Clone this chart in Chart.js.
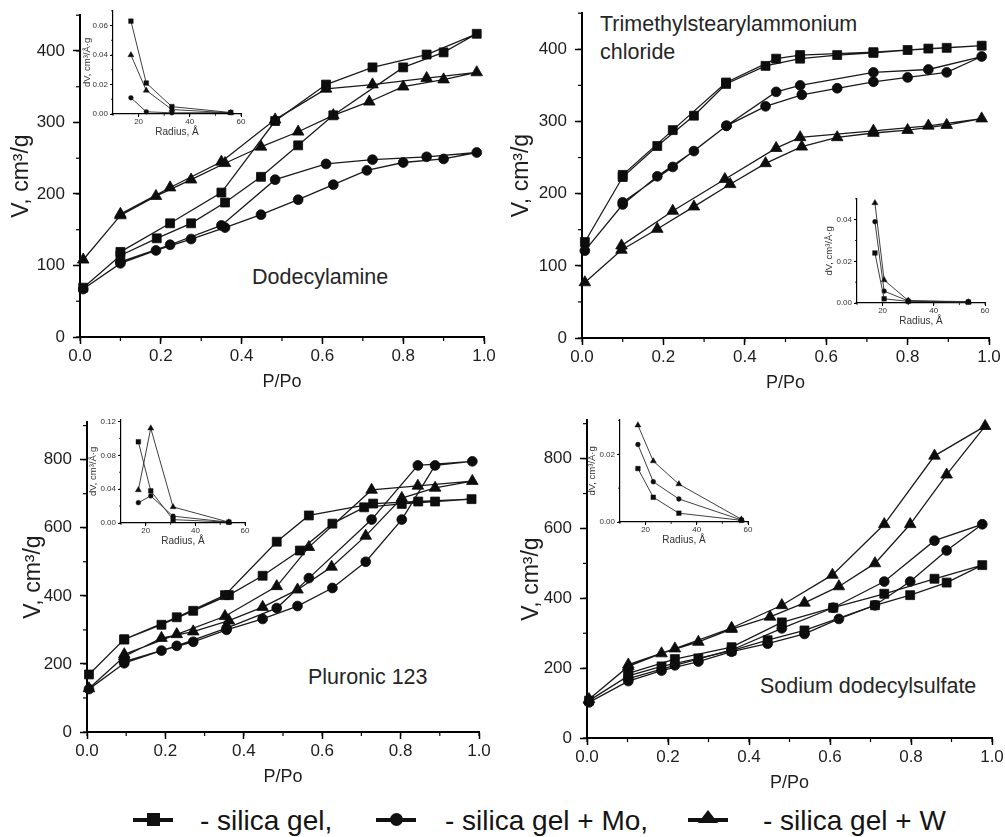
<!DOCTYPE html>
<html><head><meta charset="utf-8">
<script src="https://cdn.jsdelivr.net/npm/chart.js@4.4.1/dist/chart.umd.min.js"></script>
<style>
html,body{margin:0;padding:0;background:#fff;}
body{width:1005px;height:837px;position:relative;overflow:hidden;font-family:"Liberation Sans",Arial,Helvetica,sans-serif;color:#1e1e1e;}
.lbl{position:absolute;font-size:21.5px;line-height:28px;white-space:nowrap;color:#262626;}
.mk{position:absolute;top:806px;width:40px;height:26px;}
.ln{position:absolute;left:0;right:0;top:12px;height:3.5px;background:#111;}
.sq{position:absolute;left:13.5px;top:7px;width:13px;height:13px;background:#111;}
.ci{position:absolute;left:13.5px;top:7px;width:13px;height:13px;background:#111;border-radius:50%;}
.tr{position:absolute;left:10px;top:4px;width:0;height:0;border-left:10px solid transparent;border-right:10px solid transparent;border-bottom:13px solid #111;}
.lt{position:absolute;top:805px;font-size:28px;line-height:32px;white-space:nowrap;color:#141414;}
</style></head><body>
<div class="lbl" style="left:252px;top:263px">Dodecylamine</div>
<div class="lbl" style="left:600px;top:10px">Trimethylstearylammonium<br>chloride</div>
<div class="lbl" style="left:308px;top:663px">Pluronic 123</div>
<div class="lbl" style="left:760px;top:672px">Sodium dodecylsulfate</div>

<div class="mk" style="left:133px"><i class="ln"></i><i class="sq"></i></div>
<div class="lt" style="left:200px">- silica gel,</div>
<div class="mk" style="left:376px"><i class="ln"></i><i class="ci"></i></div>
<div class="lt" style="left:445px">- silica gel + Mo,</div>
<div class="mk" style="left:688px"><i class="ln"></i><i class="tr"></i></div>
<div class="lt" style="left:763px">- silica gel + W</div>

<script>
// ---------- DATA: isotherms (P/Po, V cm3/g), adsorption then desorption ----------
// Dodecylamine
const dodecylGelP = [0.008,0.10,0.19,0.275,0.359,0.448,0.54,0.627,0.80,0.90,0.982,0.858,0.724,0.609,0.483,0.35,0.223,0.10];
const dodecylGelV = [69,114,138,159,188,224,268,310,377,398,424,395,377,353,302,202,159,119];
const dodecylMoP  = [0.008,0.10,0.188,0.275,0.359,0.448,0.54,0.627,0.71,0.80,0.90,0.982,0.858,0.724,0.609,0.483,0.35,0.223,0.10];
const dodecylMoV  = [67,103,121,137,153,171,192,213,233,244,249,258,252,248,242,220,156,129,105];
const dodecylWP   = [0.008,0.10,0.188,0.275,0.359,0.448,0.54,0.627,0.716,0.80,0.90,0.982,0.858,0.724,0.609,0.483,0.35,0.223,0.10];
const dodecylWV   = [108,170,197,220,243,266,287,310,329,350,360,370,362,353,347,304,245,209,172];
// Trimethylstearylammonium chloride
const tmsacGelP = [0.007,0.10,0.185,0.275,0.354,0.451,0.536,0.627,0.716,0.80,0.896,0.982,0.851,0.716,0.536,0.477,0.354,0.223,0.10];
const tmsacGelV = [133,223,266,308,352,377,387,392,395,399,402,405,401,396,392,387,354,288,226];
const tmsacMoP  = [0.007,0.10,0.185,0.275,0.355,0.451,0.54,0.627,0.716,0.80,0.896,0.982,0.851,0.716,0.536,0.477,0.355,0.223,0.10];
const tmsacMoV  = [121,185,224,259,294,321,337,346,355,361,368,390,372,368,350,341,294,237,188];
const tmsacWP   = [0.007,0.097,0.185,0.275,0.364,0.451,0.54,0.627,0.716,0.80,0.896,0.982,0.851,0.716,0.536,0.477,0.351,0.223,0.097];
const tmsacWV   = [77,122,151,182,213,242,265,278,284,288,295,304,294,287,278,263,220,176,128];
// Pluronic 123
const pluronicGelP = [0.005,0.095,0.19,0.271,0.362,0.448,0.543,0.626,0.707,0.803,0.888,0.981,0.845,0.73,0.566,0.484,0.352,0.229,0.095];
const pluronicGelV = [169,272,315,356,402,459,533,612,660,670,677,684,677,671,636,559,402,337,272];
const pluronicMoP  = [0.005,0.095,0.19,0.271,0.356,0.448,0.537,0.626,0.711,0.803,0.888,0.983,0.844,0.726,0.566,0.484,0.356,0.229,0.095];
const pluronicMoV  = [126,202,239,265,300,332,370,423,500,624,783,795,783,624,452,364,305,253,207];
const pluronicWP   = [0.005,0.095,0.19,0.271,0.362,0.448,0.537,0.624,0.711,0.803,0.888,0.983,0.844,0.726,0.566,0.484,0.352,0.229,0.095];
const pluronicWV   = [128,222,276,295,327,367,418,485,576,687,717,737,723,711,543,428,340,287,228];
// Sodium dodecylsulfate
const sdsGelP = [0.005,0.102,0.184,0.275,0.357,0.446,0.537,0.711,0.798,0.888,0.976,0.858,0.734,0.608,0.481,0.357,0.217,0.102];
const sdsGelV = [107,178,205,228,250,280,308,380,409,445,495,456,413,373,331,260,226,185];
const sdsMoP  = [0.005,0.102,0.184,0.275,0.357,0.446,0.537,0.622,0.711,0.798,0.888,0.976,0.858,0.734,0.608,0.481,0.357,0.217,0.102];
const sdsMoV  = [102,163,193,219,247,270,298,341,380,448,537,612,565,448,373,314,252,208,170];
const sdsWP   = [0.005,0.102,0.184,0.275,0.357,0.452,0.537,0.622,0.711,0.798,0.888,0.983,0.858,0.734,0.606,0.481,0.357,0.217,0.102];
const sdsWV   = [111,205,242,275,312,347,387,434,500,612,754,893,808,612,467,380,315,256,210];

// ---------- DATA: pore size distributions (Radius, Å ; dV, cm3/Å·g) ----------
const dodecylRadius = [17,23,33,56];
const dodecylPsdGel = [0.063,0.021,0.005,0.001];
const dodecylPsdMo  = [0.011,0.0015,0.0008,0.001];
const dodecylPsdW   = [0.040,0.016,0.003,0.0008];
const tmsacRadius = [17,20.6,30,53.5];
const tmsacPsdGel = [0.024,0.002,0.0008,0.0004];
const tmsacPsdMo  = [0.039,0.0057,0.001,0.0007];
const tmsacPsdW   = [0.048,0.011,0.0012,0.0004];
const pluronicRadius = [17,22,31,53.5];
const pluronicPsdGel = [0.096,0.038,0.004,0.001];
const pluronicPsdMo  = [0.024,0.032,0.008,0.001];
const pluronicPsdW   = [0.039,0.112,0.019,0.001];
const sdsRadius = [17,23,33,57.4];
const sdsPsdGel = [0.0158,0.0073,0.0026,0.0005];
const sdsPsdMo  = [0.0229,0.0119,0.0068,0.0006];
const sdsPsdW   = [0.0286,0.018,0.0112,0.0008];

// ---------- axis ranges / tick labels ----------
const mainXTitle = 'P/Po';
const mainYTitle = 'V, cm³/g';
const insetXTitle = 'Radius, Å';
const insetYTitle = 'dV, cm³/Å·g';
const mainYMax  = [450, 450, 910, 910];
const mainYStep = [100, 100, 200, 200];
const mainYMinor= [50, 50, 100, 100];
const insetYMax  = [0.07, 0.05, 0.122, 0.0302];
const insetYStep = [0.02, 0.02, 0.04, 0.02];
const insetYMinor= [0.01, 0.01, 0.02, 0.01];

const FONT = '"Liberation Sans", Arial, Helvetica, sans-serif';
Chart.defaults.font.family = FONT;
Chart.defaults.color = '#1e1e1e';
Chart.defaults.animation = false;

const minorTicks = {
  id: 'minorTicks',
  afterDraw(chart, args, opts) {
    const ctx = chart.ctx;
    ctx.save();
    ctx.strokeStyle = '#000';
    ctx.lineWidth = opts.width || 1;
    ['x','y'].forEach(id => {
      const s = chart.scales[id];
      const step = opts[id];
      if (!s || !step) return;
      const n = Math.round((s.max - s.min) / step + 1e-6);
      for (let i = 0; i <= n; i++) {
        const v = s.min + i * step;
        if (v > s.max + 1e-9) break;
        const p = s.getPixelForValue(v);
        ctx.beginPath();
        if (id === 'x') { ctx.moveTo(p, s.top); ctx.lineTo(p, s.top + opts.len); }
        else { ctx.moveTo(s.right, p); ctx.lineTo(s.right - opts.len, p); }
        ctx.stroke();
      }
    });
    ctx.restore();
  }
};

function ds(p, v, style, small) {
  const r = small ? {rect:3.3, circle:2.4, triangle:3.5}[style] : {rect:6.3, circle:4.9, triangle:6.7}[style];
  return {
    data: p.map((x, i) => ({x: x, y: v[i]})),
    showLine: true, tension: 0, clip: false,
    borderColor: small ? '#2a2a2a' : '#1a1a1a', borderWidth: small ? 0.9 : 1.3,
    pointStyle: style, pointRadius: r,
    pointBackgroundColor: '#0d0d0d', pointBorderColor: '#0d0d0d', pointBorderWidth: small ? 0.4 : 0.8
  };
}

function makeCanvas(left, top, w, h) {
  const c = document.createElement('canvas');
  c.width = w; c.height = h;
  c.style.cssText = 'position:absolute;left:' + left + 'px;top:' + top + 'px;width:' + w + 'px;height:' + h + 'px';
  document.body.appendChild(c);
  return c;
}

function mainChart(o) {
  const PT = 12, PR = 20, XH = 60;
  const w = o.yw + (o.R - o.L) + PR, h = PT + (o.B - o.T) + XH;
  const c = makeCanvas(o.L - o.yw, o.T - PT, w, h);
  new Chart(c, {
    type: 'scatter',
    data: { datasets: o.series },
    options: {
      responsive: false, maintainAspectRatio: false, animation: false,
      layout: { padding: { top: PT, right: PR, bottom: 0, left: 0 } },
      plugins: { legend: {display: false}, tooltip: {enabled: false},
                 minorTicks: { x: 0.1, y: o.yMinor, len: 4, width: 1.2 } },
      scales: {
        x: {
          type: 'linear', min: 0, max: 1,
          border: { display: true, color: '#000', width: 2 },
          grid: { display: true, drawOnChartArea: false, drawTicks: true, tickLength: 7, tickColor: '#000', tickWidth: 1.5 },
          ticks: { stepSize: 0.2, autoSkip: false, maxRotation: 0, padding: 2, includeBounds: false,
                   color: '#1e1e1e', font: { size: 17 }, callback: v => Number(v).toFixed(1) },
          title: { display: true, text: mainXTitle, color: '#1e1e1e', font: { size: 18 }, padding: { top: 0, bottom: 4 } },
          afterFit: s => { s.height = XH; }
        },
        y: {
          type: 'linear', min: 0, max: o.yMax,
          border: { display: true, color: '#000', width: 2 },
          grid: { display: true, drawOnChartArea: false, drawTicks: true, tickLength: 7, tickColor: '#000', tickWidth: 1.5 },
          ticks: { stepSize: o.yStep, autoSkip: false, padding: 8, includeBounds: false,
                   color: '#1e1e1e', font: { size: 17 }, callback: v => String(Math.round(v)) },
          title: { display: true, text: mainYTitle, color: '#1e1e1e', font: { size: 23 }, padding: { top: o.tp, bottom: 0 } },
          afterFit: s => { s.width = o.yw; }
        }
      }
    },
    plugins: [minorTicks]
  });
}

function insetChart(o) {
  const PT = 6, PR = 8, XH = 26;
  const w = o.yw + (o.R - o.L) + PR, h = PT + (o.B - o.T) + XH;
  const c = makeCanvas(o.L - o.yw, o.T - PT, w, h);
  new Chart(c, {
    type: 'scatter',
    data: { datasets: o.series },
    options: {
      responsive: false, maintainAspectRatio: false, animation: false,
      layout: { padding: { top: PT, right: PR, bottom: 0, left: 0 } },
      plugins: { legend: {display: false}, tooltip: {enabled: false},
                 minorTicks: { x: 10, y: o.yMinor, len: 2, width: 0.8 } },
      scales: {
        x: {
          type: 'linear', min: 10, max: 60,
          border: { display: true, color: '#000', width: 1.2 },
          grid: { display: true, drawOnChartArea: false, drawTicks: true, tickLength: 3, tickColor: '#000', tickWidth: 1 },
          ticks: { stepSize: 20, autoSkip: false, maxRotation: 0, padding: 0, includeBounds: false,
                   color: '#333', font: { size: 8 }, callback: v => String(Math.round(v)) },
          title: { display: true, text: insetXTitle, color: '#333', font: { size: 10 }, padding: { top: 0, bottom: 2 } },
          afterFit: s => { s.height = XH; }
        },
        y: {
          type: 'linear', min: 0, max: o.yMax,
          border: { display: true, color: '#000', width: 1.2 },
          grid: { display: true, drawOnChartArea: false, drawTicks: true, tickLength: 3, tickColor: '#000', tickWidth: 1 },
          ticks: { stepSize: o.yStep, autoSkip: false, padding: 2, includeBounds: false,
                   color: '#333', font: { size: 8 }, callback: v => Number(v).toFixed(2) },
          title: { display: true, text: insetYTitle, color: '#333', font: { size: 9.5 }, padding: { top: 1, bottom: 0 } },
          afterFit: s => { s.width = o.yw; }
        }
      }
    },
    plugins: [minorTicks]
  });
}

// ---------- main panels ----------
mainChart({ L: 80, T: 9, R: 484, B: 337, yw: 80, tp: 8, yMax: mainYMax[0], yStep: mainYStep[0], yMinor: mainYMinor[0],
  series: [ds(dodecylGelP, dodecylGelV, 'rect'), ds(dodecylMoP, dodecylMoV, 'circle'), ds(dodecylWP, dodecylWV, 'triangle')] });
mainChart({ L: 582, T: 7, R: 989, B: 338, yw: 82, tp: 8, yMax: mainYMax[1], yStep: mainYStep[1], yMinor: mainYMinor[1],
  series: [ds(tmsacGelP, tmsacGelV, 'rect'), ds(tmsacMoP, tmsacMoV, 'circle'), ds(tmsacWP, tmsacWV, 'triangle')] });
mainChart({ L: 87, T: 416, R: 479, B: 732, yw: 87, tp: 20, yMax: mainYMax[2], yStep: mainYStep[2], yMinor: mainYMinor[2],
  series: [ds(pluronicGelP, pluronicGelV, 'rect'), ds(pluronicMoP, pluronicMoV, 'circle'), ds(pluronicWP, pluronicWV, 'triangle')] });
mainChart({ L: 587, T: 414, R: 992, B: 738, yw: 87, tp: 18, yMax: mainYMax[3], yStep: mainYStep[3], yMinor: mainYMinor[3],
  series: [ds(sdsGelP, sdsGelV, 'rect'), ds(sdsMoP, sdsMoV, 'circle'), ds(sdsWP, sdsWV, 'triangle')] });

// ---------- insets ----------
insetChart({ L: 113, T: 10, R: 241, B: 114, yw: 32, yMax: insetYMax[0], yStep: insetYStep[0], yMinor: insetYMinor[0],
  series: [ds(dodecylRadius, dodecylPsdGel, 'rect', true), ds(dodecylRadius, dodecylPsdMo, 'circle', true), ds(dodecylRadius, dodecylPsdW, 'triangle', true)] });
insetChart({ L: 857, T: 198, R: 985, B: 303, yw: 34, yMax: insetYMax[1], yStep: insetYStep[1], yMinor: insetYMinor[1],
  series: [ds(tmsacRadius, tmsacPsdGel, 'rect', true), ds(tmsacRadius, tmsacPsdMo, 'circle', true), ds(tmsacRadius, tmsacPsdW, 'triangle', true)] });
insetChart({ L: 121, T: 419, R: 245, B: 523, yw: 34, yMax: insetYMax[2], yStep: insetYStep[2], yMinor: insetYMinor[2],
  series: [ds(pluronicRadius, pluronicPsdGel, 'rect', true), ds(pluronicRadius, pluronicPsdMo, 'circle', true), ds(pluronicRadius, pluronicPsdW, 'triangle', true)] });
insetChart({ L: 620, T: 419, R: 748, B: 522, yw: 34, yMax: insetYMax[3], yStep: insetYStep[3], yMinor: insetYMinor[3],
  series: [ds(sdsRadius, sdsPsdGel, 'rect', true), ds(sdsRadius, sdsPsdMo, 'circle', true), ds(sdsRadius, sdsPsdW, 'triangle', true)] });
</script>
</body></html>
